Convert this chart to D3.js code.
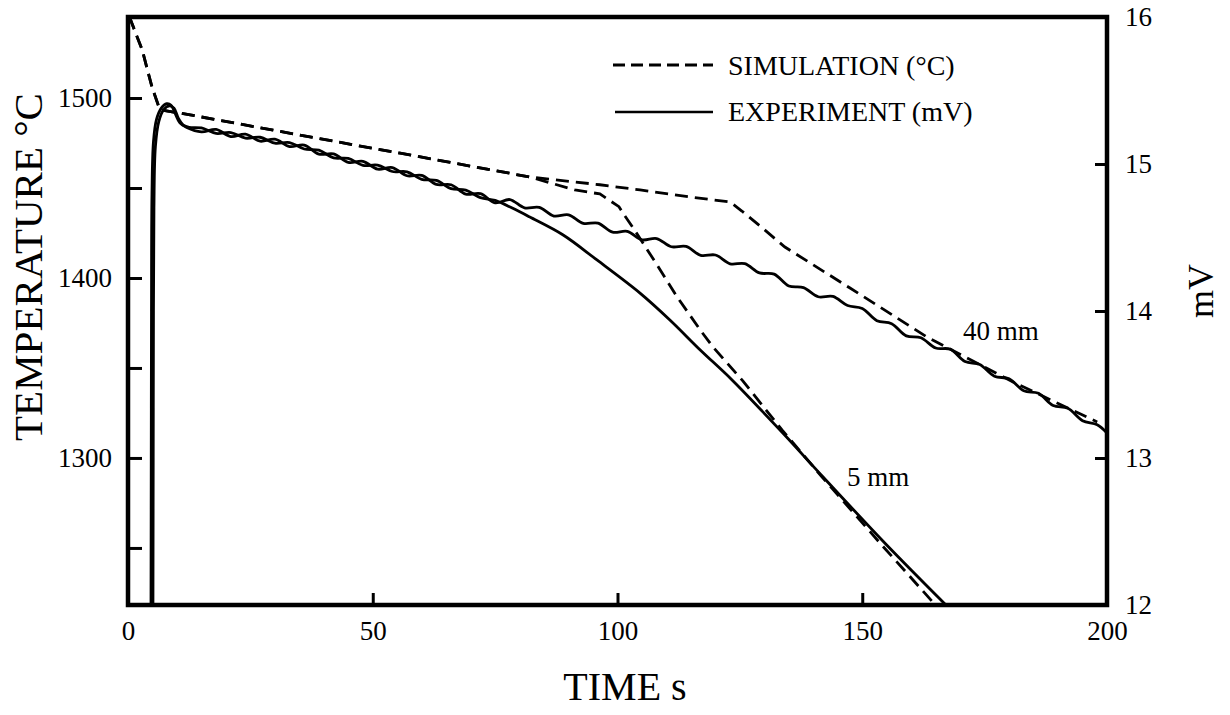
<!DOCTYPE html>
<html><head><meta charset="utf-8">
<script src="https://cdn.jsdelivr.net/npm/d3@7"></script>
<style>
body{margin:0;background:#fff;}
text{font-family:"Liberation Serif","Times New Roman",serif;fill:#000;}
</style></head>
<body><svg id="chart" width="1230" height="715"></svg>
<script>
// ---------- data ----------
const xTicks = [0, 50, 100, 150, 200];
const leftTicks = [1250, 1300, 1350, 1400, 1450, 1500];
const leftLabels = [1300, 1400, 1500];
const rightTicks = [12, 13, 14, 15, 16];

// simulation (°C, left axis): shared start, then the two branches
const simCommon = [[0.3,1545],[2.9,1526.7],[4.9,1506.1],[6.5,1493.5],[12.7,1490.6],[35.1,1479.4],[55.6,1469.3],[71.9,1461.2],[82.1,1456.1]];
const sim40mmTail = [[96.4,1451.8],[104.6,1448.9],[114.8,1445.0],[123.0,1442.2],[125.4,1437.2],[129.1,1428.9],[134.2,1417.2],[147.5,1394.4],[163.2,1367.2],[180.8,1342.2],[198.0,1320.0]];
const sim5mmTail = [[91.3,1448.9],[96.4,1446.7],[100.3,1439.6],[101.5,1434.5],[103.2,1427.8],[108.1,1407.2],[112.2,1389.4],[116.9,1371.1],[119.5,1361.7],[125.6,1342.8],[133.6,1315.6],[141.8,1289.4],[153.6,1252.8],[165.3,1217.2]];

// experiment (mV, right axis)
const exp40mm = [[4.7,12.0],[4.75,13.0],[4.8,14.0],[4.9,14.8],[5.2,15.15],[5.8,15.3],[6.8,15.38],[7.9,15.41],[8.8,15.40],[9.7,15.34],[10.6,15.28],[12,15.248],
 [15,15.218],[18,15.235],[21,15.187],[24,15.203],[27,15.155],[30,15.169],[33,15.119],[36,15.129],[39,15.067],[42,15.069],[45,15.011],[48,15.018],
 [51,14.965],[54,14.976],[57,14.920],[60,14.923],[63,14.861],[66,14.859],[69,14.795],[72,14.798],[75,14.736],[78,14.758],[81,14.702],[84,14.705],
 [87,14.646],[90,14.654],[93,14.596],[96,14.598],[99,14.536],[102,14.542],[105,14.484],[108,14.493],[111,14.437],[114,14.439],[117,14.378],[120,14.381],
 [123,14.321],[126,14.322],[129,14.259],[132,14.251],[135,14.170],[138,14.159],[141,14.097],[144,14.099],[147,14.037],[150,14.017],[153,13.934],[156,13.914],
 [159,13.831],[162,13.818],[165,13.748],[168,13.740],[171,13.656],[174,13.636],[177,13.556],[180,13.539],[183,13.457],[186,13.440],[189,13.357],[192,13.338],
 [195,13.254],[198,13.226],[200,13.170]];
const exp5mm = [[5.1,12.0],[5.15,13.0],[5.2,14.0],[5.3,14.7],[5.6,15.12],[6.3,15.29],[7.3,15.37],[8.5,15.395],[9.4,15.38],[10.3,15.31],[11.3,15.265],[12.5,15.25],
 [15,15.245],[18,15.208],[21,15.214],[24,15.176],[27,15.182],[30,15.142],[33,15.146],[36,15.102],[39,15.094],[42,15.042],[45,15.038],[48,14.991],
 [51,14.992],[54,14.949],[57,14.947],[60,14.896],[63,14.888],[66,14.832],[69,14.822],[72,14.771],[75,14.752],[78.5,14.700],[82.1,14.639],[88.9,14.517],
 [95.8,14.347],[104.6,14.122],[110.7,13.939],[116.9,13.735],[123.4,13.531],[133.2,13.190],[142.0,12.871],[154.6,12.422],[167.1,12.0]];

const legendLabels = ["SIMULATION (°C)", "EXPERIMENT (mV)"];
const curveLabels = ["40 mm", "5 mm"];
const xTitle = "TIME s", yLeftTitle = "TEMPERATURE °C", yRightTitle = "mV";

// ---------- layout ----------
const FONT = '"Liberation Serif","Times New Roman",serif';
const L = 128, R = 1107, T = 17, B = 605;
const svg = d3.select("#chart");
const x = d3.scaleLinear().domain([0, 200]).range([L, R]);
const yL = d3.scaleLinear().domain([1218.3, 1545]).range([B, T]);
const yR = d3.scaleLinear().domain([12, 16]).range([B, T]);

svg.append("defs").append("clipPath").attr("id","clip")
  .append("rect").attr("x",L).attr("y",T).attr("width",R-L).attr("height",B-T);

// axes
const ax = svg.append("g").attr("transform",`translate(0,${B})`)
  .call(d3.axisBottom(x).tickValues(xTicks).tickSizeInner(-12).tickSizeOuter(0).tickPadding(16).tickFormat(d3.format("d")));
const ayl = svg.append("g").attr("transform",`translate(${L},0)`)
  .call(d3.axisLeft(yL).tickValues(leftTicks).tickSizeInner(-14).tickSizeOuter(0).tickPadding(16)
    .tickFormat(d => leftLabels.includes(d) ? String(d) : ""));
const ayr = svg.append("g").attr("transform",`translate(${R},0)`)
  .call(d3.axisRight(yR).tickValues(rightTicks).tickSizeInner(-12).tickSizeOuter(0).tickPadding(18).tickFormat(d3.format("d")));
[ax, ayl, ayr].forEach(g => {
  g.attr("font-family", FONT).attr("font-size", 27);
  g.select(".domain").remove();
  g.selectAll(".tick line").attr("stroke","#000").attr("stroke-width",3);
  g.selectAll(".tick text").attr("fill","#000").attr("font-family", FONT).attr("font-size", 27);
});

// frame
svg.append("rect").attr("x",L).attr("y",T).attr("width",R-L).attr("height",B-T)
  .attr("fill","none").attr("stroke","#000").attr("stroke-width",4.5);

// curves
const plot = svg.append("g").attr("clip-path","url(#clip)");
const simLine = d3.line().x(d => x(d[0])).y(d => yL(d[1])).curve(d3.curveLinear);
const expLine = d3.line().x(d => x(d[0])).y(d => yR(d[1])).curve(d3.curveCatmullRom.alpha(0.5));

[simCommon.concat(sim40mmTail), simCommon.concat(sim5mmTail)].forEach(s => {
  plot.append("path").attr("d", simLine(s)).attr("fill","none").attr("stroke","#000")
    .attr("stroke-width",2.8).attr("stroke-dasharray","13,7");
});
[exp40mm, exp5mm].forEach(s => {
  plot.append("path").attr("d", expLine(s)).attr("fill","none").attr("stroke","#000")
    .attr("stroke-width",2.8).attr("stroke-linejoin","round");
});

// curve labels
svg.append("text").attr("x", x(170.6)).attr("y", yR(13.80)).style("font-size","27px").text(curveLabels[0]);
svg.append("text").attr("x", x(146.9)).attr("y", yR(12.81)).style("font-size","27px").text(curveLabels[1]);

// legend
const lg = svg.append("g");
lg.append("line").attr("x1",613).attr("x2",713).attr("y1",65).attr("y2",65)
  .attr("stroke","#000").attr("stroke-width",2.8).attr("stroke-dasharray","12,6");
lg.append("text").attr("x",728).attr("y",75).style("font-size","28px").text(legendLabels[0]);
lg.append("line").attr("x1",615).attr("x2",713).attr("y1",112).attr("y2",112)
  .attr("stroke","#000").attr("stroke-width",2.5);
lg.append("text").attr("x",728).attr("y",121).style("font-size","28px").text(legendLabels[1]);

// titles
svg.append("text").attr("x",625).attr("y",700).attr("text-anchor","middle").style("font-size","40px").text(xTitle);
svg.append("text").attr("transform","translate(42,267) rotate(-90)").attr("text-anchor","middle").style("font-size","41px").text(yLeftTitle);
svg.append("text").attr("transform","translate(1213,291) rotate(-90)").attr("text-anchor","middle").style("font-size","36px").text(yRightTitle);
</script>
</body></html>
